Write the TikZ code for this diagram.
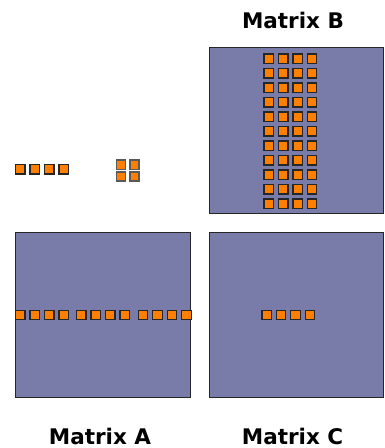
\documentclass[tikz,border=0pt]{standalone}
\usepackage{fontspec}
\setmainfont{DejaVu Sans}
\definecolor{matfill}{RGB}{121,123,168}
\definecolor{cellfill}{RGB}{255,128,0}
\tikzset{
  matbox/.style={draw=black!85, line width=1pt, fill=matfill},
  cell/.style={draw=black!85, line width=1.3pt, fill=cellfill, minimum size=9.4pt, inner sep=0pt, outer sep=0pt, rectangle},
  tilecell/.style={cell, draw=black!65, line width=1.5pt, minimum size=9.1pt},
  label/.style={font=\bfseries\fontsize{21.5}{24}\selectfont, anchor=base, inner sep=0pt}
}
\begin{document}
\begin{tikzpicture}[x=1pt,y=-1pt]
\useasboundingbox (0,0) rectangle (384,448);
% matrices
\draw[matbox] (209,47) rectangle (383,213);
\draw[matbox] (15,232) rectangle (190,397);
\draw[matbox] (209,232) rectangle (383,397);
% labels
\node[label] (lb) at (293,28.3) {Matrix B};
\node[label] (la) at (100,444) {Matrix A};
\node[label] (lc) at (292.5,444) {Matrix C};
% free row of 4
\foreach \i in {0,...,3} {
  \node[cell] (r\i) at ({20.3+14.5*\i},169.3) {};
}
% 2x2 tile
\foreach \i in {0,1} \foreach \j in {0,1} {
  \node[tilecell] (t\i\j) at ({121+13.3*\i},{164.7+11.6*\j}) {};
}
% matrix B columns
\foreach \i in {0,...,3} \foreach \j in {0,...,10} {
  \node[cell] (b\i\j) at ({268.7+14.45*\i},{58.7+14.5*\j}) {};
}
% matrix A row
\foreach \g/\off in {0/0,1/61,2/122.7} \foreach \i in {0,...,3} {
  \node[cell] (a\g\i) at ({20.3+\off+14.5*\i},315) {};
}
% matrix C row
\foreach \i in {0,...,3} {
  \node[cell] (c\i) at ({266.7+14.4*\i},315) {};
}
\end{tikzpicture}
\end{document}
